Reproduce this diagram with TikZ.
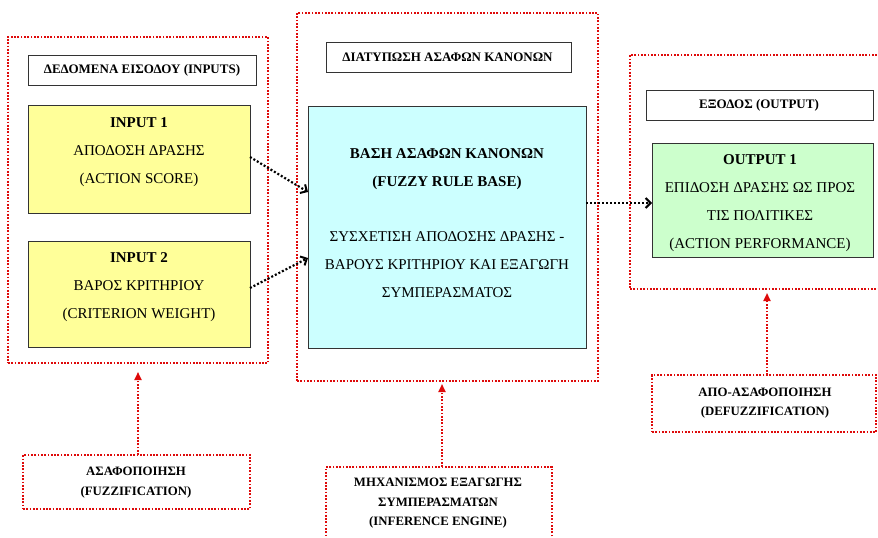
\documentclass[tikz,border=0pt]{standalone}
\usepackage{fontspec}
\setmainfont{Liberation Serif}
\usetikzlibrary{arrows.meta,calc}

\definecolor{frameRed}{RGB}{222,10,10}
\definecolor{inYellow}{RGB}{255,255,153}
\definecolor{ruleCyan}{RGB}{204,255,255}
\definecolor{outGreen}{RGB}{204,255,204}

\tikzset{
  frame/.style={draw=frameRed, line width=1.9pt, dash pattern=on 1.7pt off 1.6pt,
    inner sep=0pt, outer sep=0pt},
  solidbox/.style={draw=black!80, line width=0.9pt, inner sep=0pt, outer sep=0pt},
  headbox/.style={solidbox, fill=white},
  maintext/.style={align=center, font=\fontsize{15}{28}\selectfont},
  headtext/.style={align=center, font=\fontsize{13}{15}\selectfont\bfseries},
  stagetext/.style={align=center, font=\fontsize{12.8}{19.5}\selectfont\bfseries},
  flow/.style={draw=black, line width=2.2pt, dash pattern=on 2pt off 2pt,
    -{Straight Barb[length=5pt,width=10pt,line width=2pt]}},
  feed/.style={draw=frameRed, line width=1.9pt, dash pattern=on 1.7pt off 1.6pt,
    -{Triangle[length=8pt,width=7pt]}},
}

\begin{document}
\begin{tikzpicture}[x=1pt,y=-1pt]
\useasboundingbox (0,0) rectangle (878,538);

% --- inputs group ---
\node[frame, minimum width=260pt, minimum height=326pt] (inframe) at (138,200) {};
\node[headbox, minimum width=228pt, minimum height=30pt] (inhead) at (142,70) {};
\node[headtext] (inheadtxt) at (142,70) {ΔΕΔΟΜΕΝΑ ΕΙΣΟΔΟΥ (INPUTS)};
\node[solidbox, fill=inYellow, minimum width=222pt, minimum height=108pt] (in1) at (139,159) {};
\node[maintext] (in1txt) at (139,152.5) {\textbf{INPUT 1}\\ΑΠΟΔΟΣΗ ΔΡΑΣΗΣ\\(ACTION SCORE)};
\node[solidbox, fill=inYellow, minimum width=222pt, minimum height=106pt] (in2) at (139,294) {};
\node[maintext] (in2txt) at (139,287.5) {\textbf{INPUT 2}\\ΒΑΡΟΣ ΚΡΙΤΗΡΙΟΥ\\(CRITERION WEIGHT)};

% --- rule base group ---
\node[frame, minimum width=301pt, minimum height=368pt] (ruleframe) at (447.5,197) {};
\node[headbox, minimum width=245pt, minimum height=30pt] (rulehead) at (448.5,57) {};
\node[headtext] (ruleheadtxt) at (447.5,57) {ΔΙΑΤΥΠΩΣΗ ΑΣΑΦΩΝ ΚΑΝΟΝΩΝ};
\node[solidbox, fill=ruleCyan, minimum width=278pt, minimum height=242pt] (rulebase) at (447,227) {};
\node[maintext] (rulebasetxt) at (447,223.5)
  {\textbf{ΒΑΣΗ ΑΣΑΦΩΝ ΚΑΝΟΝΩΝ}\\\textbf{(FUZZY RULE BASE)}\\[27pt]
   ΣΥΣΧΕΤΙΣΗ ΑΠΟΔΟΣΗΣ ΔΡΑΣΗΣ -\\ΒΑΡΟΥΣ ΚΡΙΤΗΡΙΟΥ ΚΑΙ ΕΞΑΓΩΓΗ\\ΣΥΜΠΕΡΑΣΜΑΤΟΣ};

% --- output group ---
\node[frame, minimum width=254pt, minimum height=234pt] (outframe) at (757,172) {};
\node[headbox, minimum width=227pt, minimum height=30pt] (outhead) at (759.5,105) {};
\node[headtext] (outheadtxt) at (759,105) {ΕΞΟΔΟΣ (OUTPUT)};
\node[solidbox, fill=outGreen, minimum width=221pt, minimum height=114pt] (out1) at (762.5,200) {};
\node[maintext] (out1txt) at (760,203)
  {\textbf{OUTPUT 1}\\ΕΠΙΔΟΣΗ ΔΡΑΣΗΣ ΩΣ ΠΡΟΣ\\ΤΙΣ ΠΟΛΙΤΙΚΕΣ\\(ACTION PERFORMANCE)};

% --- processing stages ---
\node[frame, minimum width=227pt, minimum height=54pt] (fuzz) at (136.5,482) {};
\node[stagetext] (fuzztxt) at (136,482.5) {ΑΣΑΦΟΠΟΙΗΣΗ\\(FUZZIFICATION)};
\node[frame, minimum width=226pt, minimum height=81pt] (infer) at (439,507.5) {};
\node[stagetext] (infertxt) at (438,503.5) {ΜΗΧΑΝΙΣΜΟΣ ΕΞΑΓΩΓΗΣ\\ΣΥΜΠΕΡΑΣΜΑΤΩΝ\\(INFERENCE ENGINE)};
\node[frame, minimum width=224pt, minimum height=57pt] (defuzz) at (764,403.5) {};
\node[stagetext] (defuzztxt) at (765,403) {ΑΠΟ-ΑΣΑΦΟΠΟΙΗΣΗ\\(DEFUZZIFICATION)};

% --- data flow ---
\draw[flow] ([yshift=2pt]in1.east) -- ([yshift=35pt]rulebase.west);
\draw[flow] ([yshift=6pt]in2.east) -- ([yshift=-31pt]rulebase.west);
\draw[flow] ([yshift=24pt]rulebase.east) -- ([yshift=-3pt]out1.west);

% --- stage links ---
\draw[feed, shorten >=9pt] ([xshift=1.5pt]fuzz.north) -- ([xshift=1.5pt]fuzz.north |- inframe.south);
\draw[feed, shorten >=3pt] ([xshift=3pt]infer.north) -- ([xshift=3pt]infer.north |- ruleframe.south);
\draw[feed, shorten >=4pt] ([xshift=3pt]defuzz.north) -- ([xshift=3pt]defuzz.north |- outframe.south);
\end{tikzpicture}
\end{document}
